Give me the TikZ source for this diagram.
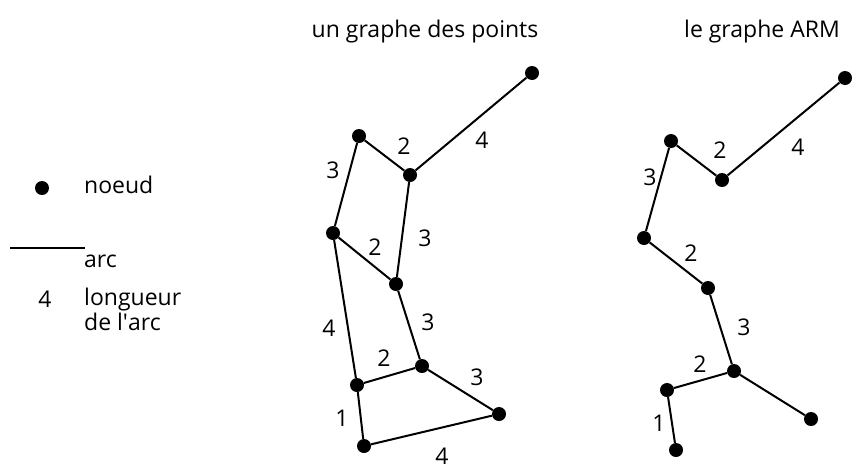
\documentclass[tikz,border=0pt]{standalone}
\usepackage{fontspec}
\setmainfont{Open Sans}
\begin{document}
\begin{tikzpicture}[x=1pt,y=-1pt,
  vertex/.style={circle,fill=black,inner sep=0pt,minimum size=14pt},
  edge/.style={line width=2pt},
  lab/.style={font=\fontsize{23}{25}\selectfont,inner sep=0pt}]
  \useasboundingbox (0,0) rectangle (861,469);
  % titres
  \node[lab] (titre1) at (425,32) {un graphe des points};
  \node[lab] (titre2) at (762,32) {le graphe ARM};
  % legende
  \node[vertex] (leg1) at (42,188) {};
  \node[lab,anchor=west] (noeud) at (84,185) {noeud};
  \coordinate (leg2a) at (10,248);
  \coordinate (leg2b) at (85,248);
  \draw[edge] (leg2a) -- (leg2b);
  \node[lab,anchor=west] (arc) at (84,261) {arc};
  \node[lab] (leg3) at (45,299) {4};
  \node[lab,anchor=north west,align=left] (longueur) at (84,288) {longueur\\de l\textquotesingle arc};
  % graphe des points
  \foreach \n/\x/\y in {a/532/73, b/359/136, c/410/175, d/333/233, e/396/284,
                        f/422/366, g/357/385, h/499/414, i/364/446}
    \node[vertex] (\n) at (\x,\y) {};
  \foreach \u/\v in {a/c, b/c, b/d, c/e, d/e, d/g, e/f, g/f, f/h, g/i, i/h}
    \draw[edge] (\u) -- (\v);
  \foreach \n/\x/\y/\t in {lac/482/140/4, lbc/404/146/2, lbd/333/170/3, lce/425/238/3,
                           lde/375/247/2, ldg/329/328/4, lef/428/322/3, lgf/384/358/2,
                           lfh/477/377/3, lgi/342/418/1, lih/442/456/4}
    \node[lab] (\n) at (\x,\y) {\t};
  % le graphe ARM
  \foreach \n/\x/\y in {ra/845/78, rb/671/141, rc/722/180, rd/644/238, re/708/288,
                        rf/734/371, rg/667/390, rh/811/419, ri/676/450}
    \node[vertex] (\n) at (\x,\y) {};
  \foreach \u/\v in {ra/rc, rb/rc, rb/rd, rd/re, re/rf, rf/rg, rf/rh, rg/ri}
    \draw[edge] (\u) -- (\v);
  \foreach \n/\x/\y/\t in {rlac/798/147/4, rlbc/720/150/2, rlbd/650/177/3, rlde/691/253/2,
                           rlef/744/327/3, rlfg/700/364/2, rlgi/659/423/1}
    \node[lab] (\n) at (\x,\y) {\t};
\end{tikzpicture}
\end{document}
